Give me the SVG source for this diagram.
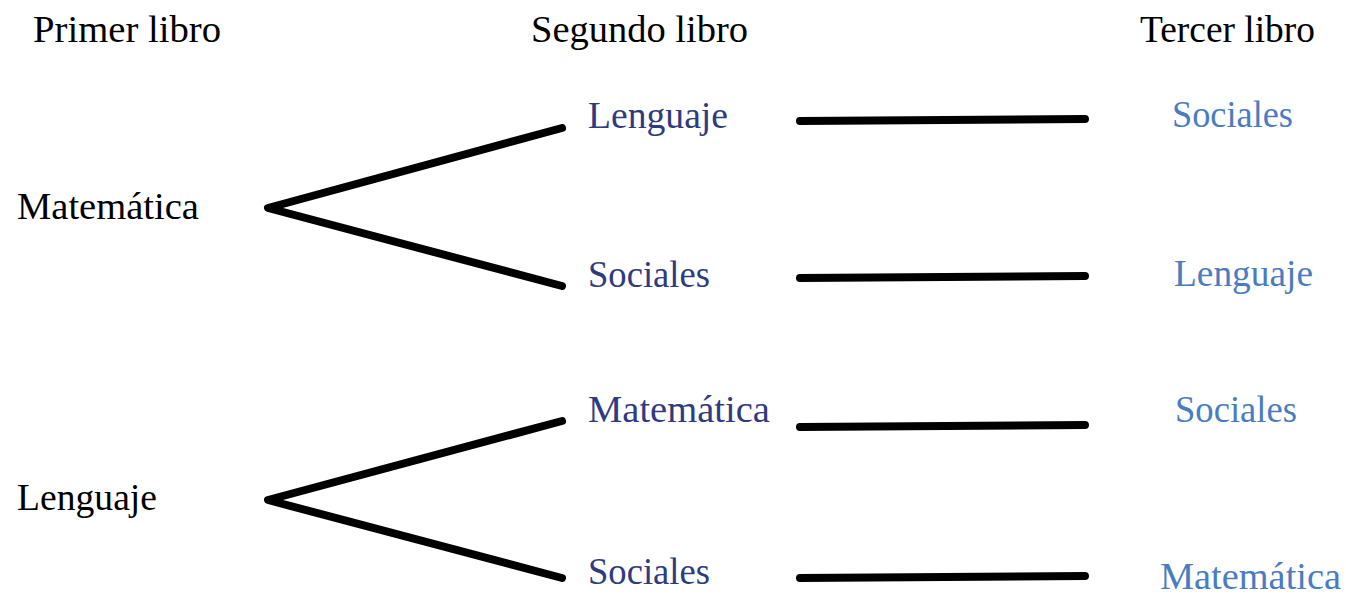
<svg xmlns="http://www.w3.org/2000/svg" width="1346" height="595" viewBox="0 0 1346 595">
<style>
text{font-family:"Liberation Serif","DejaVu Serif",serif;font-size:37px}
.h{fill:#000}
.b{fill:#2F3B80}
.c{fill:#4A7CC2}
.e{stroke:#000;stroke-width:8;stroke-linecap:round;stroke-linejoin:round;fill:none}
</style>
<rect width="1346" height="595" fill="#fff"/>
<g id="headers">
<text class="h" x="33" y="42" textLength="188" lengthAdjust="spacingAndGlyphs">Primer libro</text>
<text class="h" x="531" y="42" textLength="217" lengthAdjust="spacingAndGlyphs">Segundo libro</text>
<text class="h" x="1140" y="42" textLength="175" lengthAdjust="spacingAndGlyphs">Tercer libro</text>
</g>
<g id="connectors">
<polyline class="e" points="562,128 268,208 562,286"/>
<polyline class="e" points="562,421 268,500 562,578"/>
<line class="e" x1="800" y1="121" x2="1085" y2="119"/>
<line class="e" x1="800" y1="278" x2="1085" y2="276"/>
<line class="e" x1="800" y1="427" x2="1085" y2="425"/>
<line class="e" x1="800" y1="578" x2="1085" y2="576"/>
</g>
<g id="n-mat1"><text class="h" x="17" y="219" textLength="182" lengthAdjust="spacingAndGlyphs">Matemática</text></g>
<g id="n-len1"><text class="h" x="17" y="510" textLength="140" lengthAdjust="spacingAndGlyphs">Lenguaje</text></g>
<g id="n-len2"><text class="b" x="588" y="128" textLength="140" lengthAdjust="spacingAndGlyphs">Lenguaje</text></g>
<g id="n-soc2a"><text class="b" x="588" y="287" textLength="122" lengthAdjust="spacingAndGlyphs">Sociales</text></g>
<g id="n-mat2"><text class="b" x="588" y="422" textLength="182" lengthAdjust="spacingAndGlyphs">Matemática</text></g>
<g id="n-soc2b"><text class="b" x="588" y="584" textLength="122" lengthAdjust="spacingAndGlyphs">Sociales</text></g>
<g id="n-soc3a"><text class="c" x="1172" y="127" textLength="121" lengthAdjust="spacingAndGlyphs">Sociales</text></g>
<g id="n-len3"><text class="c" x="1174" y="286" textLength="139" lengthAdjust="spacingAndGlyphs">Lenguaje</text></g>
<g id="n-soc3b"><text class="c" x="1175" y="422" textLength="122" lengthAdjust="spacingAndGlyphs">Sociales</text></g>
<g id="n-mat3"><text class="c" x="1160" y="589" textLength="181" lengthAdjust="spacingAndGlyphs">Matemática</text></g>
</svg>
